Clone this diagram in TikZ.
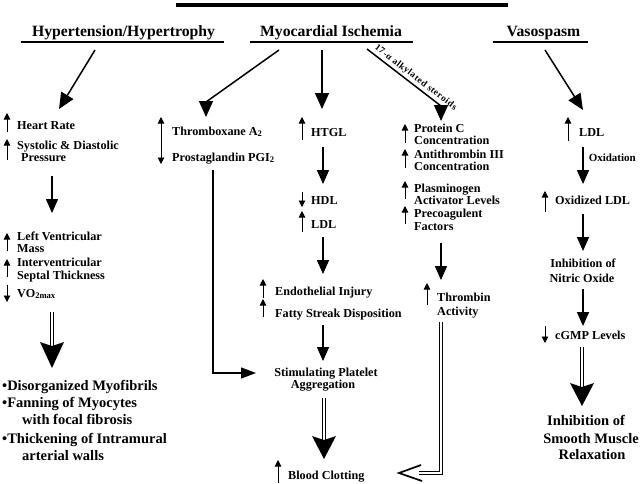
\documentclass[tikz,border=0pt]{standalone}
\usepackage{fontspec}
\setmainfont{Liberation Serif}
\usetikzlibrary{arrows.meta}
\newcommand\myBodyF{\bfseries\fontsize{12.2}{13}\selectfont}
\newcommand\myTtlF{\bfseries\fontsize{15.7}{17}\selectfont}
\newcommand\myLrgF{\bfseries\fontsize{14.5}{16}\selectfont}
\newcommand\mySmlF{\bfseries\fontsize{11}{12}\selectfont}
\newcommand\myTinyF{\bfseries\fontsize{9.3}{10}\selectfont\addfontfeature{LetterSpace=6}}
\begin{document}
\begin{tikzpicture}[x=1pt,y=-1pt,
  every node/.style={inner sep=0pt, font=\myBodyF},
  tl/.style={anchor=base west},
  tc/.style={anchor=base},
  ttl/.style={anchor=base, font=\myTtlF},
  lrg/.style={font=\myLrgF},
  topar/.style={line width=1.5pt, -{Triangle[length=16pt,width=14pt]}},
  bigar/.style={line width=1.5pt, -{Triangle[length=14pt,width=12pt]}},
  inc/.style={line width=0.7pt, -{Triangle[length=6.5pt,width=6.5pt]}},
  incboth/.style={line width=0.7pt, {Triangle[length=6.5pt,width=6.5pt]}-{Triangle[length=6.5pt,width=6.5pt]}},
  elb/.style={line width=1.3pt, -{Triangle[length=15pt,width=11pt]}},
  dbl/.style={double, double distance=2.6pt, line width=0.9pt},
  uline/.style={line width=1.2pt}
]
\useasboundingbox (0,0) rectangle (640,483);

% top bar
\fill (176,3) rectangle (508,7);

% titles
\node[ttl] (hyp) at (123.5,36) {Hypertension/Hypertrophy};
\node[ttl] (myo) at (331,36) {Myocardial Ischemia};
\node[ttl] (vas) at (543.5,36) {Vasospasm};
\draw[uline] (21,42) -- (224,42);
\draw[uline] (250,42) -- (413,42);
\draw[uline] (493,42) -- (588,42);

% top arrows
\coordinate (h0) at (95,50);   \coordinate (h1) at (59,109);
\draw[topar] (h0) -- (h1);
\coordinate (m0) at (279,50);  \coordinate (mm) at (206,102); \coordinate (m1) at (206,117);
\draw[topar] (m0) -- (mm) -- (m1);
\coordinate (c0) at (322,50);  \coordinate (c1) at (322,109);
\draw[topar] (c0) -- (c1);
\coordinate (s0) at (367,49);  \coordinate (sm) at (441,106); \coordinate (s1) at (441,121);
\draw[topar] (s0) -- node[sloped, above=2pt, pos=0.6, font=\myTinyF] {17-α alkylated steroids} (sm) -- (s1);
\coordinate (v0) at (545,50);  \coordinate (v1) at (583,110);
\draw[topar] (v0) -- (v1);

% ---------- column 1
\node[tl] (hr) at (17,129) {Heart Rate};
\draw[inc] (7,132) -- (7,113);
\node[tl] (sd1) at (17,149) {Systolic \& Diastolic};
\node[tl] (sd2) at (21,161) {Pressure};
\draw[inc] (7,160) -- (7,139);
\coordinate (a1a) at (52,176); \coordinate (a1b) at (52,213);
\draw[bigar] (a1a) -- (a1b);
\node[tl] (lv1) at (17,240) {Left Ventricular};
\node[tl] (lv2) at (17,252) {Mass};
\draw[inc] (7,251) -- (7,233);
\node[tl] (iv1) at (17,266) {Interventricular};
\node[tl] (iv2) at (17,279) {Septal Thickness};
\draw[inc] (7,277) -- (7,259);
\node[tl] (vo) at (17,297) {VO\textsubscript{2max}};
\draw[inc] (7,285) -- (7,302);
\coordinate (d1a) at (52,312); \coordinate (d1b) at (52,346);
\draw[dbl] (d1a) -- (d1b);
\fill (40,342) -- (52,368) -- (64,342) -- (52,346) -- cycle;
\node[tl, lrg] (b1) at (2,390) {•Disorganized Myofibrils};
\node[tl, lrg] (b2) at (2,407) {•Fanning of Myocytes};
\node[tl, lrg] (b3) at (22,424) {with focal fibrosis};
\node[tl, lrg] (b4) at (2,443) {•Thickening of Intramural};
\node[tl, lrg] (b5) at (22,460) {arterial walls};

% ---------- column 2
\node[tl] (tx) at (172,135) {Thromboxane A\textsubscript{2}};
\node[tl] (pg) at (172,161) {Prostaglandin PGI\textsubscript{2}};
\draw[incboth] (161,117) -- (161,164);
\coordinate (e2a) at (213,170); \coordinate (e2b) at (256,373);
\draw[elb] (e2a) |- (e2b);

% ---------- column 3
\node[tl] (htgl) at (311,136) {HTGL};
\draw[inc] (302,140) -- (302,117);
\coordinate (a3a) at (323,147); \coordinate (a3b) at (323,184);
\draw[bigar] (a3a) -- (a3b);
\node[tl] (hdl) at (311,204) {HDL};
\draw[inc] (302,192) -- (302,207);
\node[tl] (ldl) at (311,228) {LDL};
\draw[inc] (302,232) -- (302,211);
\coordinate (a3c) at (323,237); \coordinate (a3d) at (323,274);
\draw[bigar] (a3c) -- (a3d);
\node[tl] (endo) at (275,295) {Endothelial Injury};
\draw[inc] (263,298) -- (263,279);
\node[tl] (fatty) at (275,317) {Fatty Streak Disposition};
\draw[inc] (263,317) -- (263,299);
\coordinate (a3e) at (323,325); \coordinate (a3f) at (323,361);
\draw[bigar] (a3e) -- (a3f);
\node[tc] (st1) at (326,376) {Stimulating Platelet};
\node[tc] (st2) at (323,388) {Aggregation};
\coordinate (d3a) at (324,398); \coordinate (d3b) at (324,440);
\draw[dbl] (d3a) -- (d3b);
\fill (312,436) -- (324,459) -- (336,436) -- (324,440) -- cycle;
\node[tl] (blood) at (288,479) {Blood Clotting};
\draw[inc] (278,483) -- (278,460);

% ---------- column 4
\node[tl] (pc1) at (414,132) {Protein C};
\node[tl] (pc2) at (414,144) {Concentration};
\draw[inc] (405,143) -- (405,124);
\node[tl] (at1) at (414,158) {Antithrombin III};
\node[tl] (at2) at (414,170) {Concentration};
\draw[inc] (405,168) -- (405,149);
\node[tl] (pl1) at (414,192) {Plasminogen};
\node[tl] (pl2) at (414,204) {Activator Levels};
\draw[inc] (405,199) -- (405,181);
\node[tl] (pr1) at (414,217) {Precoagulent};
\node[tl] (pr2) at (414,230) {Factors};
\draw[inc] (405,224) -- (405,206);
\coordinate (a4a) at (441,243); \coordinate (a4b) at (441,280);
\draw[bigar] (a4a) -- (a4b);
\node[tl] (th1) at (437,301) {Thrombin};
\node[tl] (th2) at (437,315) {Activity};
\draw[inc] (427,305) -- (427,283);
\coordinate (e4a) at (441,322); \coordinate (e4b) at (419,473);
\draw[dbl] (e4a) |- (e4b);
\coordinate (e4t) at (399,473);
\draw[line width=1.7pt, line join=miter] (421,465) -- (e4t) -- (422,481);

% ---------- column 5
\node[tl] (ldl5) at (579,136) {LDL};
\draw[inc] (568,141) -- (568,117);
\coordinate (a5a) at (583,147); \coordinate (a5b) at (583,184);
\draw[bigar] (a5a) -- node[right=5pt, pos=0.3, font=\mySmlF] {Oxidation} (a5b);
\node[tl] (oxl) at (555,204) {Oxidized LDL};
\draw[inc] (545,212) -- (545,191);
\coordinate (a5c) at (583,214); \coordinate (a5d) at (583,251);
\draw[bigar] (a5c) -- (a5d);
\node[tc] (no1) at (583,267) {Inhibition of};
\node[tc] (no2) at (582,282) {Nitric Oxide};
\coordinate (a5e) at (583,289); \coordinate (a5f) at (583,326);
\draw[bigar] (a5e) -- (a5f);
\node[tl] (cg) at (555,339) {cGMP Levels};
\draw[inc] (545,326) -- (545,343);
\coordinate (d5a) at (582,347); \coordinate (d5b) at (582,387);
\draw[dbl] (d5a) -- (d5b);
\fill (570,383) -- (582,406) -- (594,383) -- (582,387) -- cycle;
\node[tc, lrg] (sm1) at (586,425) {Inhibition of};
\node[tc, lrg] (sm2) at (591,443) {Smooth Muscle};
\node[tc, lrg] (sm3) at (592,459) {Relaxation};
\end{tikzpicture}
\end{document}
